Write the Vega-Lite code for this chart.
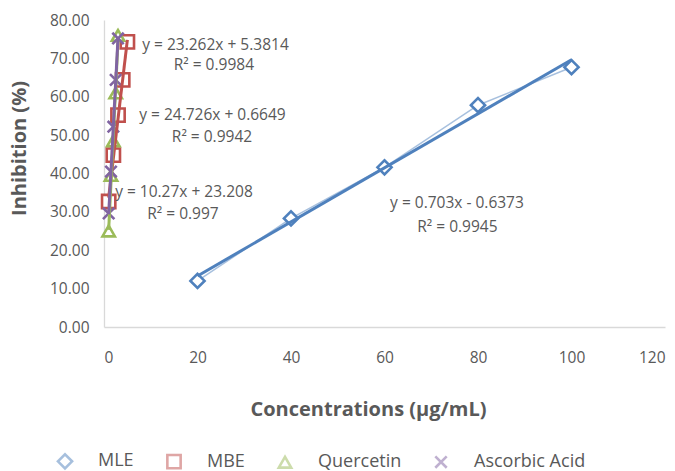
{
  "$schema": "https://vega.github.io/schema/vega-lite/v6.json",
  "width": 561,
  "height": 307,
  "autosize": {"type": "none"},
  "padding": {"left": 104, "top": 20, "right": 10, "bottom": 144},
  "background": "white",
  "config": {
    "view": {"stroke": null},
    "font": "Open Sans",
    "axis": {"labelColor": "#595959", "titleColor": "#595959", "grid": false, "ticks": false, "domainColor": "#D9D9D9", "domainWidth": 1.3, "labelFontSize": 15.5, "titleFontSize": 20, "titleFontWeight": "bold", "labelOverlap": false},
    "legend": {"labelColor": "#595959", "labelFontSize": 18}
  },
  "datasets": {
    "pts": [
      {"series": "MLE", "x": 20, "y": 12.0},
      {"series": "MLE", "x": 40, "y": 28.3},
      {"series": "MLE", "x": 60, "y": 41.6},
      {"series": "MLE", "x": 80, "y": 57.8},
      {"series": "MLE", "x": 100, "y": 67.7},
      {"series": "MBE", "x": 1, "y": 32.7},
      {"series": "MBE", "x": 2, "y": 44.8},
      {"series": "MBE", "x": 3, "y": 55.2},
      {"series": "MBE", "x": 4, "y": 64.4},
      {"series": "MBE", "x": 5, "y": 74.3},
      {"series": "Quercetin", "x": 1, "y": 25.0},
      {"series": "Quercetin", "x": 1.5, "y": 39.5},
      {"series": "Quercetin", "x": 2, "y": 48.5},
      {"series": "Quercetin", "x": 2.5, "y": 61.0},
      {"series": "Quercetin", "x": 3, "y": 76.0},
      {"series": "Ascorbic Acid", "x": 1, "y": 29.6},
      {"series": "Ascorbic Acid", "x": 1.5, "y": 40.5},
      {"series": "Ascorbic Acid", "x": 2, "y": 52.2},
      {"series": "Ascorbic Acid", "x": 2.5, "y": 64.4},
      {"series": "Ascorbic Acid", "x": 3, "y": 75.2}
    ],
    "labels": [
      {"x": 23.85, "y": 73.5, "text": "y = 23.262x + 5.3814"},
      {"x": 23.5, "y": 68.3, "text": "R² = 0.9984"},
      {"x": 23.2, "y": 55.2, "text": "y = 24.726x + 0.6649"},
      {"x": 23.1, "y": 49.6, "text": "R² = 0.9942"},
      {"x": 17.1, "y": 35.1, "text": "y = 10.27x + 23.208"},
      {"x": 16.9, "y": 29.4, "text": "R² = 0.997"},
      {"x": 75.5, "y": 32.2, "text": "y = 0.703x - 0.6373"},
      {"x": 75.6, "y": 26.1, "text": "R² = 0.9945"}
    ]
  },
  "layer": [
    {
      "data": {"name": "pts"},
      "mark": {"type": "line", "strokeWidth": 1.5, "opacity": 0.5},
      "encoding": {
        "x": {"field": "x", "type": "quantitative", "scale": {"domain": [0, 120]}, "axis": {"values": [0, 20, 40, 60, 80, 100, 120], "format": "d", "labelPadding": 23, "labelOverlap": false, "title": "Concentrations (μg/mL)", "titlePadding": 34, "titleX": 264, "titleAlign": "center"}},
        "y": {"field": "y", "type": "quantitative", "scale": {"domain": [0, 80]}, "axis": {"values": [0, 10, 20, 30, 40, 50, 60, 70, 80], "tickCount": 9, "format": ".2f", "labelPadding": 15, "labelOverlap": false, "labelBound": false, "title": "Inhibition (%)", "titlePadding": 20, "titleY": 128, "titleAlign": "center"}},
        "color": {"field": "series", "type": "nominal", "scale": {"domain": ["MLE", "MBE", "Quercetin", "Ascorbic Acid"], "range": ["#4F81BD", "#C0504D", "#9BBB59", "#8064A2"]}},
        "detail": {"field": "series"},
        "order": {"field": "x"}
      }
    },
    {
      "data": {"name": "pts"},
      "mark": {"type": "point", "filled": false, "fill": "white", "fillOpacity": 1, "strokeWidth": 2.6, "opacity": 1},
      "encoding": {
        "x": {"field": "x", "type": "quantitative"},
        "y": {"field": "y", "type": "quantitative"},
        "color": {"field": "series", "type": "nominal", "legend": {"title": null, "orient": "none", "direction": "horizontal", "legendX": -48, "legendY": 432, "labelOffset": 24, "columnPadding": 28, "symbolStrokeWidth": 2.6, "symbolSize": 150, "symbolFillColor": "white", "symbolOpacity": 1, "encode": {"symbols": {"update": {"strokeWidth": {"value": 2.6}, "opacity": {"value": 1}}}}}},
        "shape": {"field": "series", "type": "nominal", "scale": {"domain": ["MLE", "MBE", "Quercetin", "Ascorbic Acid"], "range": ["diamond", "square", "triangle-up", "M-1,-1L1,1M-1,1L1,-1"]}, "legend": {"title": null, "orient": "none", "direction": "horizontal", "legendX": -48, "legendY": 432, "labelOffset": 24, "columnPadding": 28, "symbolStrokeWidth": 2.6, "symbolSize": 150, "symbolFillColor": "white", "symbolOpacity": 1, "encode": {"symbols": {"update": {"strokeWidth": {"value": 2.6}, "opacity": {"value": 1}}}}}},
        "size": {"field": "series", "type": "nominal", "scale": {"domain": ["MLE", "MBE", "Quercetin", "Ascorbic Acid"], "range": [200, 130, 160, 180]}, "legend": null}
      }
    },
    {
      "data": {"name": "pts"},
      "transform": [{"regression": "y", "on": "x", "groupby": ["series"], "method": "linear"}],
      "mark": {"type": "line", "strokeWidth": 3},
      "encoding": {
        "x": {"field": "x", "type": "quantitative"},
        "y": {"field": "y", "type": "quantitative"},
        "color": {"field": "series", "type": "nominal"}
      }
    },
    {
      "data": {"name": "labels"},
      "mark": {"type": "text", "fontSize": 15.5, "color": "#595959", "align": "center", "baseline": "middle"},
      "encoding": {
        "x": {"field": "x", "type": "quantitative"},
        "y": {"field": "y", "type": "quantitative"},
        "text": {"field": "text"}
      }
    }
  ]
}
